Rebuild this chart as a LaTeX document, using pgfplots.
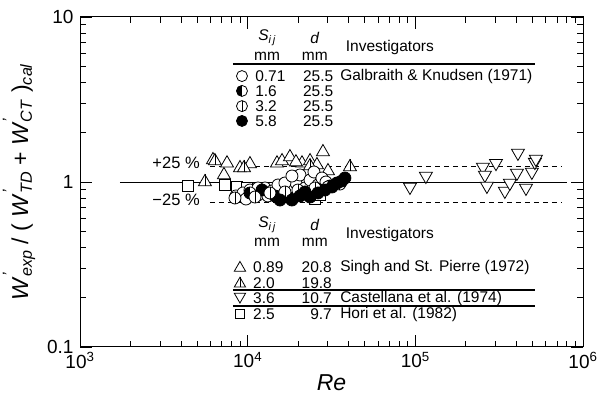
\documentclass[border=0pt]{standalone}
\usepackage{pgfplots}
\pgfplotsset{compat=1.18}
\usepackage{fontspec}
\setmainfont{Liberation Sans}

\pgfdeclareplotmark{halfo}{%
  \pgfpathcircle{\pgfpointorigin}{\pgfplotmarksize}%
  \pgfusepathqfillstroke
  \pgfsetfillcolor{black}%
  \pgfpathmoveto{\pgfqpoint{0pt}{\pgfplotmarksize}}%
  \pgfpatharc{90}{270}{\pgfplotmarksize}%
  \pgfpathclose
  \pgfusepathqfill
}
\pgfdeclareplotmark{lineo}{%
  \pgfpathcircle{\pgfpointorigin}{\pgfplotmarksize}%
  \pgfusepathqfillstroke
  \pgfpathmoveto{\pgfqpoint{0pt}{\pgfplotmarksize}}%
  \pgfpathlineto{\pgfqpoint{0pt}{-\pgfplotmarksize}}%
  \pgfusepathqstroke
}
\pgfdeclareplotmark{utri}{%
  \pgfpathmoveto{\pgfqpoint{0pt}{\pgfplotmarksize}}%
  \pgfpathlineto{\pgfqpointpolar{210}{\pgfplotmarksize}}%
  \pgfpathlineto{\pgfqpointpolar{330}{\pgfplotmarksize}}%
  \pgfpathclose
  \pgfusepathqfillstroke
}
\pgfdeclareplotmark{linetri}{%
  \pgfpathmoveto{\pgfqpoint{0pt}{\pgfplotmarksize}}%
  \pgfpathlineto{\pgfqpointpolar{210}{\pgfplotmarksize}}%
  \pgfpathlineto{\pgfqpointpolar{330}{\pgfplotmarksize}}%
  \pgfpathclose
  \pgfusepathqfillstroke
  \pgfpathmoveto{\pgfqpoint{0pt}{\pgfplotmarksize}}%
  \pgfpathlineto{\pgfqpoint{0pt}{-0.5\pgfplotmarksize}}%
  \pgfusepathqstroke
}
\pgfdeclareplotmark{dtri}{%
  \pgfpathmoveto{\pgfqpoint{0pt}{-\pgfplotmarksize}}%
  \pgfpathlineto{\pgfqpointpolar{30}{\pgfplotmarksize}}%
  \pgfpathlineto{\pgfqpointpolar{150}{\pgfplotmarksize}}%
  \pgfpathclose
  \pgfusepathqfillstroke
}
\pgfdeclareplotmark{opsq}{%
  \pgfpathrectangle{\pgfqpoint{-\pgfplotmarksize}{-\pgfplotmarksize}}{\pgfqpoint{2\pgfplotmarksize}{2\pgfplotmarksize}}%
  \pgfusepathqfillstroke
}
\pgfdeclareplotmark{opo}{%
  \pgfpathcircle{\pgfpointorigin}{\pgfplotmarksize}%
  \pgfusepathqfillstroke
}
\pgfdeclareplotmark{filo}{%
  \pgfsetfillcolor{black}%
  \pgfpathcircle{\pgfpointorigin}{\pgfplotmarksize}%
  \pgfusepathqfillstroke
}

\newcommand{\sym}[2]{\tikz[baseline=-0.6ex]{\pgfsetlinewidth{0.8pt}\pgfsetfillcolor{white}\pgfsetplotmarksize{#2}\pgfuseplotmark{#1}}}
\newcommand{\Wp}[1]{\textit{W}\rlap{\raisebox{0.62em}{\fontsize{16}{16}\selectfont\textit{'}}}\textsubscript{\textit{#1}}}
\newcommand{\Sij}{\textit{S}\textsubscript{\textit{i\,j}}}

\begin{document}
\begin{tikzpicture}
\useasboundingbox (-80pt,-51pt) rectangle (528pt,347pt);
\begin{axis}[
  at={(0pt,0pt)}, anchor=south west,
  scale only axis, width=503pt, height=330pt,
  xmode=log, ymode=log,
  xmin=1e3, xmax=1e6, ymin=0.1, ymax=10,
  xtick={1e3,1e4,1e5,1e6},
  xticklabels={10\textsuperscript{3},10\textsuperscript{4},10\textsuperscript{5},10\textsuperscript{6}},
  ytick={0.1,1,10}, yticklabels={0.1,1,10},
  tick align=inside,
  major tick length=12pt, minor tick length=6pt,
  every tick/.style={black, line width=0.8pt},
  axis line style={line width=1pt},
  tick label style={font=\fontsize{19}{21}\selectfont},
  xticklabel style={yshift=-2pt},
  yticklabel style={xshift=-3pt},
  clip=false,
  mark options={line width=0.8pt, fill=white, solid},
]
% reference lines
\addplot[black, line width=0.9pt, mark=none] coordinates {(1730,1) (8.0e5,1)};
\addplot[black, line width=0.9pt, dash pattern=on 5pt off 4pt, mark=none] coordinates {(5960,1.25) (7.5e5,1.25)};
\addplot[black, line width=0.9pt, dash pattern=on 5pt off 4pt, mark=none] coordinates {(5960,0.75) (7.5e5,0.75)};

% Hori et al. (1982): squares
\addplot[only marks, mark=opsq, mark size=5.3pt] coordinates {
(4400,0.946) (7320,0.959) (8630,0.933) (9910,0.920) (25190,0.789) (26980,0.834)};
% Singh & St. Pierre 0.89: open triangles
\addplot[only marks, mark=utri, mark size=7.5pt] coordinates {
(6210,1.36) (7530,1.30) (9000,1.216) (10320,1.285) (7220,1.103) (14960,1.30)
(16030,1.34) (17870,1.417) (21090,1.30) (23550,1.34) (25890,1.268) (28120,1.52)
(30130,1.166) (19410,1.32)};
% Singh & St. Pierre 2.0: triangles with line
\addplot[only marks, mark=linetri, mark size=7.5pt] coordinates {
(5560,1.0) (6380,1.34) (9510,1.216) (40740,1.233) (23550,1.25)};
% Castellana et al. (1974): down triangles
\addplot[only marks, mark=dtri, mark size=7.5pt] coordinates {
(92900,0.933) (115600,1.087) (253000,1.233) (260000,1.103) (267300,0.946)
(302700,1.30) (342000,0.882) (366400,0.986) (409300,1.50) (403600,1.134)
(457000,0.920) (495500,1.15) (516400,1.32) (523600,1.378)};
% Galbraith & Knudsen 0.71: open circles
\addplot[only marks, mark=opo, mark size=6pt] coordinates {
(8510,0.823) (9380,0.858) (10320,0.894) (11520,0.834) (12680,0.920) (13960,0.882)
(15170,0.959) (16220,0.823) (17870,0.894) (19410,0.986) (20510,1.103) (21980,0.920)
(23550,1.028) (24850,1.15) (26250,0.959) (27730,1.057) (29310,1.0) (13210,0.823)
(9770,0.789) (16680,0.986) (18370,1.087) (11520,0.92)};
% 1.6: half-filled circles
\addplot[only marks, mark=halfo, mark size=6pt] coordinates {
(10320,0.858) (12170,0.894) (14550,0.823) (17870,0.800) (21980,0.846)
(26980,0.894) (30970,0.946) (34530,0.986)};
% 3.2: circles with line
\addplot[only marks, mark=lineo, mark size=6pt] coordinates {
(8400,0.800) (11060,0.811) (13580,0.858) (16680,0.870) (19950,0.894)
(25190,0.920) (30130,0.933) (35480,0.972)};
% 5.8: filled circles
\addplot[only marks, mark=filo, mark size=6pt] coordinates {
(15590,0.778) (18370,0.778) (20510,0.823) (21980,0.870) (23550,0.811)
(26250,0.858) (28910,0.894) (31840,0.933) (34120,0.986) (36480,1.014) (38020,1.057)};

% labels
\node[font=\fontsize{16.5}{18}\selectfont] at (rel axis cs:0.191,0.558) {+25 \%};
\node[font=\fontsize{16.5}{18}\selectfont] at (rel axis cs:0.191,0.445) {−25 \%};

% top table
\begin{scope}[every node/.style={font=\fontsize{15.5}{17}\selectfont, inner sep=0pt}]
\node at (rel axis cs:0.372,0.936) {\Sij};
\node at (rel axis cs:0.372,0.880) {mm};
\node at (rel axis cs:0.467,0.936) {\textit{d}};
\node at (rel axis cs:0.467,0.880) {mm};
\node at (rel axis cs:0.616,0.909) {Investigators};
\draw[line width=1.4pt] (rel axis cs:0.304,0.858) -- (rel axis cs:0.905,0.858);
\node at (rel axis cs:0.322,0.821) {\sym{opo}{5.5pt}};
\node at (rel axis cs:0.322,0.776) {\sym{halfo}{5.5pt}};
\node at (rel axis cs:0.322,0.730) {\sym{lineo}{5.5pt}};
\node at (rel axis cs:0.322,0.685) {\sym{filo}{5.5pt}};
\node[anchor=west] at (rel axis cs:0.348,0.821) {0.71};
\node[anchor=west] at (rel axis cs:0.348,0.776) {1.6};
\node[anchor=west] at (rel axis cs:0.348,0.730) {3.2};
\node[anchor=west] at (rel axis cs:0.348,0.685) {5.8};
\node[anchor=west] at (rel axis cs:0.443,0.821) {25.5};
\node[anchor=west] at (rel axis cs:0.443,0.776) {25.5};
\node[anchor=west] at (rel axis cs:0.443,0.730) {25.5};
\node[anchor=west] at (rel axis cs:0.443,0.685) {25.5};
\node[anchor=west] at (rel axis cs:0.517,0.821) {Galbraith \& Knudsen (1971)};

% bottom table
\node at (rel axis cs:0.372,0.370) {\Sij};
\node at (rel axis cs:0.372,0.316) {mm};
\node at (rel axis cs:0.467,0.370) {\textit{d}};
\node at (rel axis cs:0.467,0.316) {mm};
\node at (rel axis cs:0.616,0.342) {Investigators};
\node at (rel axis cs:0.318,0.242) {\sym{utri}{6.5pt}};
\node at (rel axis cs:0.318,0.194) {\sym{linetri}{6.5pt}};
\node at (rel axis cs:0.318,0.148) {\sym{dtri}{6.5pt}};
\node at (rel axis cs:0.318,0.100) {\sym{opsq}{4.8pt}};
\node[anchor=west] at (rel axis cs:0.344,0.242) {0.89};
\node[anchor=west] at (rel axis cs:0.344,0.194) {2.0};
\node[anchor=west] at (rel axis cs:0.344,0.148) {3.6};
\node[anchor=west] at (rel axis cs:0.344,0.100) {2.5};
\node[anchor=east] at (rel axis cs:0.501,0.242) {20.8};
\node[anchor=east] at (rel axis cs:0.501,0.194) {19.8};
\node[anchor=east] at (rel axis cs:0.501,0.148) {10.7};
\node[anchor=east] at (rel axis cs:0.501,0.100) {9.7};
\node[anchor=west] at (rel axis cs:0.517,0.242) {Singh and St. Pierre (1972)};
\node[anchor=west] at (rel axis cs:0.517,0.148) {Castellana et al. (1974)};
\node[anchor=west] at (rel axis cs:0.517,0.100) {Hori et al. (1982)};
\draw[line width=1.2pt] (rel axis cs:0.304,0.173) -- (rel axis cs:0.905,0.173);
\draw[line width=1.2pt] (rel axis cs:0.304,0.124) -- (rel axis cs:0.905,0.124);
\end{scope}

% axis labels
\node[font=\fontsize{23}{25}\selectfont\itshape] at (rel axis cs:0.5,0) [yshift=-36pt] {Re};
\node[xshift=-61pt, rotate=90, font=\fontsize{23}{25}\selectfont] at (rel axis cs:0,0.5)
  {\Wp{exp} / ( \Wp{TD} + \Wp{CT} )\textsubscript{\textit{cal}}};
\end{axis}
\end{tikzpicture}
\end{document}
